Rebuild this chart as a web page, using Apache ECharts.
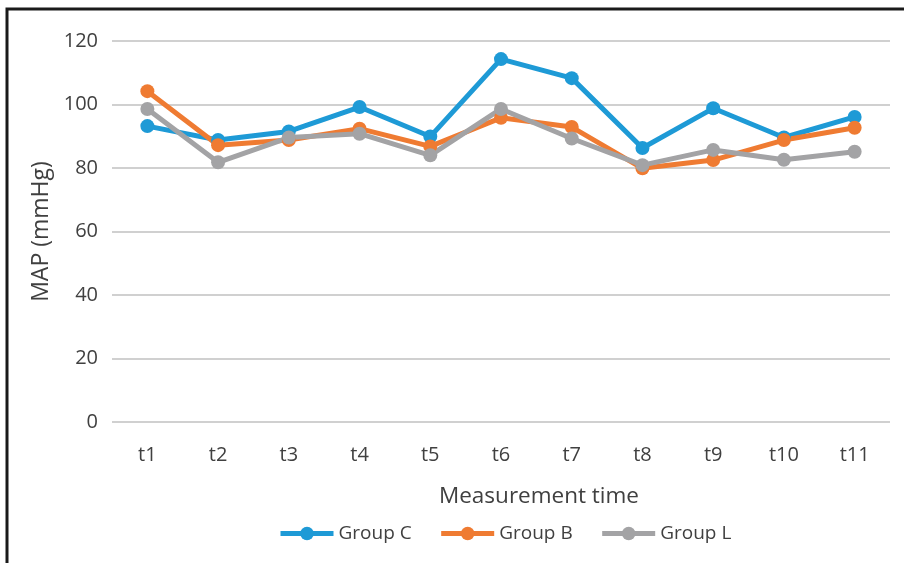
<!DOCTYPE html>
<html>
<head>
<meta charset="utf-8">
<script src="https://cdn.jsdelivr.net/npm/echarts@6/dist/echarts.min.js"></script>
<style>
  html, body { margin: 0; padding: 0; background: #fff; }
  #chart { width: 904px; height: 563px; }
</style>
</head>
<body>
<div id="chart"></div>
<script>
// Mean arterial pressure at each measurement point, per group
const categories = ['t1', 't2', 't3', 't4', 't5', 't6', 't7', 't8', 't9', 't10', 't11'];
const groupC = [93.2, 88.8, 91.5, 99.2, 89.9, 114.3, 108.3, 86.3, 98.8, 89.6, 96.1];
const groupB = [104.2, 87.2, 88.8, 92.4, 86.8, 95.8, 92.9, 79.9, 82.5, 88.8, 92.7];
const groupL = [98.6, 81.8, 89.6, 90.8, 84.0, 98.6, 89.3, 80.9, 85.7, 82.6, 85.1];
const yTicks = { min: 0, max: 120, interval: 20 };

const font = '"Open Sans", "Liberation Sans", sans-serif';
const textColor = '#404040';

function lineSeries(name, data, color) {
  return {
    name: name,
    type: 'line',
    data: data,
    symbol: 'circle',
    symbolSize: 14,
    lineStyle: { width: 5, color: color },
    itemStyle: { color: color },
    z: 2
  };
}

const chart = echarts.init(document.getElementById('chart'), null, { renderer: 'canvas' });
chart.setOption({
  animation: false,
  backgroundColor: '#fff',
  textStyle: { fontFamily: font },
  grid: { left: 112, right: 14, top: 41, bottom: 141, containLabel: false },
  legend: {
    bottom: 15,
    left: 273,
    itemWidth: 53,
    itemHeight: 17,
    itemGap: 27,
    lineStyle: { width: 5 },
    textStyle: { fontFamily: font, fontSize: 19, color: textColor },
    data: ['Group C', 'Group B', 'Group L']
  },
  xAxis: {
    type: 'category',
    data: categories,
    boundaryGap: true,
    axisLine: { show: false },
    axisTick: { show: false },
    axisLabel: { fontFamily: font, fontSize: 20, color: textColor, margin: 23 },
    name: 'Measurement time',
    nameLocation: 'middle',
    nameGap: 63,
    nameTextStyle: { fontFamily: font, fontSize: 22.5, color: textColor, padding: [0, 0, 0, 76] }
  },
  yAxis: {
    type: 'value',
    min: yTicks.min,
    max: yTicks.max,
    interval: yTicks.interval,
    axisLine: { show: false },
    axisTick: { show: false },
    splitLine: { lineStyle: { color: '#d0d0d0', width: 2 } },
    axisLabel: { fontFamily: font, fontSize: 20, color: textColor, margin: 14 },
    name: 'MAP (mmHg)',
    nameLocation: 'middle',
    nameGap: 57,
    nameRotate: 90,
    nameTextStyle: { fontFamily: font, fontSize: 23, color: textColor }
  },
  series: [
    lineSeries('Group C', groupC, '#1e9ad6'),
    lineSeries('Group B', groupB, '#ef7b32'),
    lineSeries('Group L', groupL, '#a3a3a5')
  ],
  graphic: [
    {
      type: 'polyline',
      shape: { points: [[7, 563], [7, 9], [904, 9]] },
      style: { stroke: '#1a1a1a', lineWidth: 3, fill: null },
      silent: true
    }
  ]
});
</script>
</body>
</html>
